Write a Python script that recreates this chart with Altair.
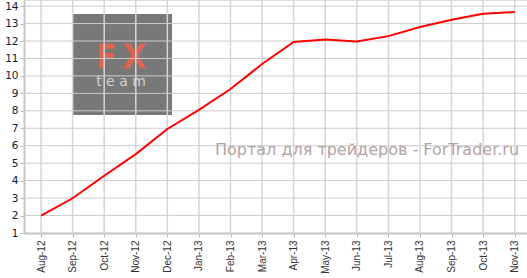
import altair as alt
import pandas as pd

months = ["Aug-12", "Sep-12", "Oct-12", "Nov-12", "Dec-12", "Jan-13", "Feb-13", "Mar-13",
          "Apr-13", "May-13", "Jun-13", "Jul-13", "Aug-13", "Sep-13", "Oct-13", "Nov-13"]
values = [2.0, 2.99, 4.28, 5.52, 6.96, 8.05, 9.25, 10.68,
          11.95, 12.08, 11.97, 12.28, 12.8, 13.22, 13.56, 13.66]
y_ticks = list(range(1, 15))
watermark = "Портал для трейдеров - ForTrader.ru"

df = pd.DataFrame({"idx": list(range(len(months))), "month": months, "value": values})
grid_x = pd.DataFrame({"idx": list(range(len(months)))})
grid_y = pd.DataFrame({"v": y_ticks[1:]})

label_array = "[" + ",".join("'%s'" % m for m in months) + "]"

xscale = alt.Scale(domain=[-0.54, 15.39], nice=False, zero=False)
yscale = alt.Scale(domain=[1, 14.35], nice=False, zero=False)

xaxis = alt.Axis(values=list(range(len(months))), labelExpr=label_array + "[datum.value]",
                 labelAngle=270, labelAlign="right", labelBaseline="middle",
                 labelFont="Liberation Sans", labelFontSize=10, labelColor="#333333",
                 labelPadding=3, tickSize=4, tickColor="#bbbbbb",
                 domainColor="#c4c4c4", domainWidth=2, grid=False, labelOverlap=False)
yaxis = alt.Axis(values=y_ticks, labelFont="DejaVu Sans", labelFontSize=10.5,
                 labelColor="#0c1a3a", labelPadding=2, tickSize=4, tickColor="#bbbbbb",
                 domainColor="#c4c4c4", domainWidth=2, grid=False, labelOverlap=False)

rect = alt.Chart(pd.DataFrame({"a": [0]})).mark_rect(color="#787878").encode(
    x=alt.value(48), x2=alt.value(148), y=alt.value(14), y2=alt.value(115)
)
logo_fx = alt.Chart(pd.DataFrame({"t": ["F X"]})).mark_text(
    font="DejaVu Sans", fontSize=30, fill="transparent", stroke="#e0644f", strokeWidth=2.4,
    align="center", baseline="alphabetic"
).encode(x=alt.value(97), y=alt.value(67), text="t:N")
logo_team = alt.Chart(pd.DataFrame({"t": ["t  e  a  m"]})).mark_text(
    font="DejaVu Sans", fontSize=14, color="#d0d0d0", align="center", baseline="alphabetic"
).encode(x=alt.value(97), y=alt.value(86), text="t:N")

vgrid = alt.Chart(grid_x).mark_rule(color="#d6d6d6", strokeWidth=1.5).encode(
    x=alt.X("idx:Q", scale=xscale, axis=xaxis, title=None)
)
hgrid = alt.Chart(grid_y).mark_rule(color="#cccccc", strokeWidth=1).encode(
    y=alt.Y("v:Q", scale=yscale, axis=yaxis, title=None)
)

line = alt.Chart(df).mark_line(color="#ff0000", strokeWidth=2).encode(
    x=alt.X("idx:Q", scale=xscale, axis=xaxis, title=None),
    y=alt.Y("value:Q", scale=yscale, axis=yaxis, title=None),
)

text = alt.Chart(pd.DataFrame({"t": [watermark]})).mark_text(
    font="DejaVu Sans", fontSize=16, color="#b3a3a3", align="center", baseline="alphabetic"
).encode(x=alt.value(343), y=alt.value(155), text="t:N")

chart = alt.layer(rect, logo_fx, logo_team, vgrid, hgrid, text, line).properties(
    width=503, height=233,
    autosize=alt.AutoSizeParams(type="none"),
    padding={"left": 24, "top": 0, "right": 0, "bottom": 45},
).configure_view(stroke=None).configure(background="#ffffff")

chart.save("out.html", embed_options={"renderer": "svg", "actions": False})
